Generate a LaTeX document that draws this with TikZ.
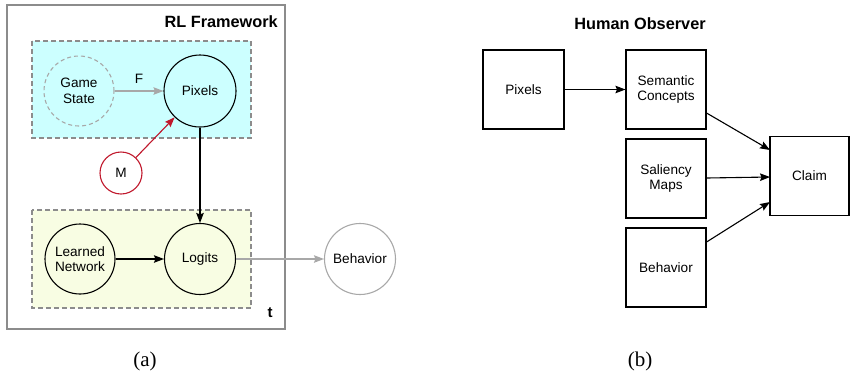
\documentclass[tikz,border=0pt]{standalone}
\usepackage{fontspec}
\setmainfont{Liberation Sans}
\newfontfamily\capfont{Liberation Serif}
\usetikzlibrary{arrows.meta}
\definecolor{cyanfill}{HTML}{CCFFFF}
\definecolor{yelfill}{HTML}{F8FDE3}
\definecolor{framegray}{HTML}{8C8C8C}
\definecolor{lightgray}{HTML}{A8A8A8}
\definecolor{mred}{HTML}{C0182C}
\begin{document}
\begin{tikzpicture}[x=1pt,y=-1pt,
  lbl/.style={font=\fontsize{13.6}{15.5}\selectfont, align=center, inner sep=0pt},
  circ/.style={circle, draw=black, line width=1.1pt, minimum size=71pt, lbl},
  sq/.style={draw=black, line width=1.1pt, minimum width=80pt, minimum height=79pt, lbl},
  arr/.style={line width=1.1pt, -{Stealth[length=10pt,width=7.5pt,inset=1.5pt]}},
  grp/.style={draw=framegray, dashed, dash pattern=on 5pt off 3pt, line width=1.1pt},
  ttl/.style={font=\fontsize{16.3}{18}\selectfont\bfseries, inner sep=0pt}
  ]
\useasboundingbox (0,0) rectangle (850,376);
% outer frame
\draw[framegray, line width=1.2pt] (7,5) rectangle (285,329);
\node[ttl, anchor=east] (rltitle) at (278,22) {RL Framework};
% groups
\draw[grp, fill=cyanfill] (32,41) rectangle (251,138);
\draw[grp, fill=yelfill] (32,210) rectangle (251,308);
% nodes
\node[circ, draw=lightgray, dashed, dash pattern=on 4pt off 3pt, minimum size=70pt] (gs) at (79,91) {Game\\State};
\node[circ, minimum size=72pt] (pix) at (200,91) {Pixels};
\node[circ, draw=mred, minimum size=42pt] (m) at (121,173) {M};
\node[circ, minimum size=70pt] (ln) at (80,259) {Learned\\Network};
\node[circ] (log) at (200,259) {Logits};
\node[circ, draw=lightgray] (beh) at (360,259) {Behavior};
\node[font=\fontsize{15}{17}\selectfont\bfseries, inner sep=0pt] (tlab) at (270,313) {t};
% edges
\draw[arr, draw=lightgray, fill=lightgray] (gs) -- node[lbl, above=7pt] (flab) {F} (pix);
\draw[arr, draw=mred, fill=mred] (m) -- (pix);
\draw[arr] (pix) -- (log);
\draw[arr] (ln) -- (log);
\draw[arr, draw=lightgray, fill=lightgray] (log) -- (beh);
\node[font=\capfont\fontsize{21}{23}\selectfont, inner sep=0pt] (capa) at (145,361) {(a)};
% right panel
\node[ttl] (hotitle) at (640,24) {Human Observer};
\node[sq, minimum width=81pt] (rpix) at (523.5,89.5) {Pixels};
\node[sq] (sem) at (666,89.5) {Semantic\\Concepts};
\node[sq] (sal) at (666,178.5) {Saliency\\Maps};
\node[sq] (rbeh) at (666,267.5) {Behavior};
\node[sq, minimum width=79pt] (claim) at (809.5,176) {Claim};
\coordinate (c1) at (770,150);
\coordinate (c2) at (770,177);
\coordinate (c3) at (770,202);
\draw[arr] (rpix) -- (sem);
\draw[arr] (sem.east |- 0,113) -- (c1);
\draw[arr] (sal.east |- 0,178) -- (c2);
\draw[arr] (rbeh.east |- 0,242) -- (c3);
\node[font=\capfont\fontsize{21}{23}\selectfont, inner sep=0pt] (capb) at (640,361) {(b)};
\end{tikzpicture}
\end{document}
